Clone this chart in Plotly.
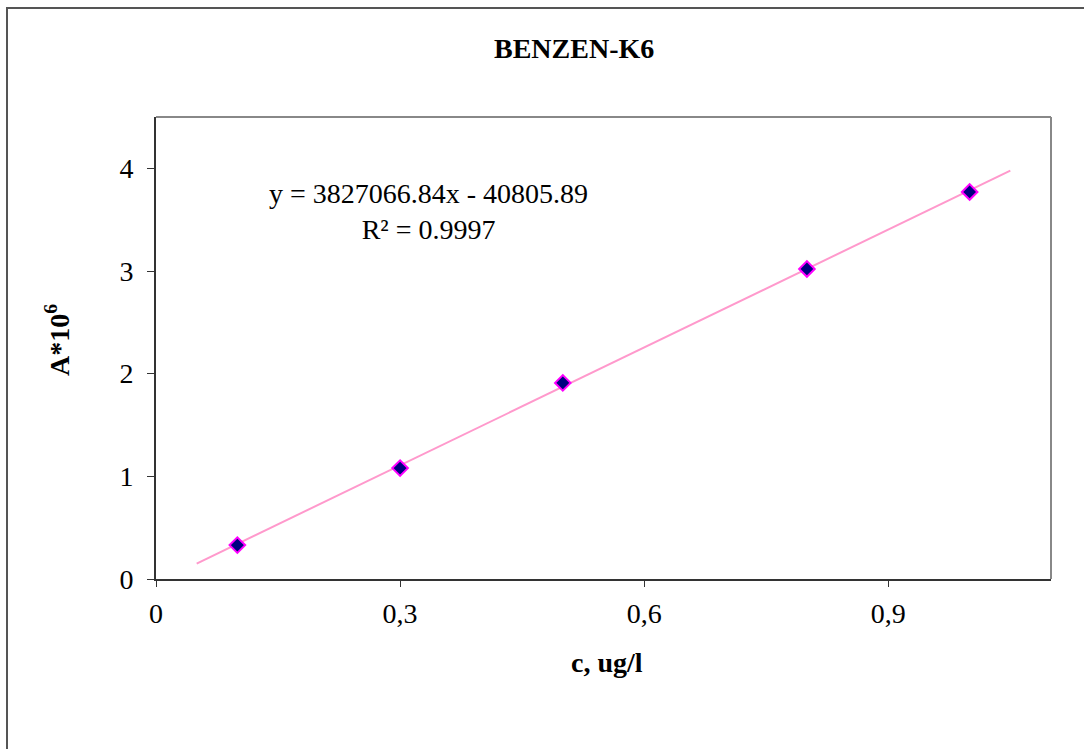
import plotly.graph_objects as go

# Data
conc = [0.1, 0.3, 0.5, 0.8, 1.0]
area = [0.33, 1.08, 1.91, 3.02, 3.77]
slope = 3827066.84
intercept = -40805.89
trend_x = [0.05, 1.05]
trend_y = [(slope * x + intercept) / 1e6 for x in trend_x]
x_tickvals = [0, 0.3, 0.6, 0.9]
x_ticktext = ["0", "0,3", "0,6", "0,9"]
y_tickvals = [0, 1, 2, 3, 4]

W, H = 1084, 749
L, R, T, B = 156, 1051, 117, 579  # plot area px

def px_x(px):
    return (px - L) / (R - L)

def px_y(py):
    return (B - py) / (B - T)

FONT = "Liberation Serif"
FS = 28

fig = go.Figure()
fig.add_trace(go.Scatter(x=trend_x, y=trend_y, mode="lines",
                         line=dict(color="#FF99CC", width=2), showlegend=False,
                         hoverinfo="skip"))
fig.add_trace(go.Scatter(x=conc, y=area, mode="markers",
                         marker=dict(symbol="diamond", size=12, color="#000080",
                                     line=dict(color="#FF00FF", width=2)),
                         showlegend=False))

fig.update_layout(
    width=W, height=H,
    margin=dict(l=L, r=W - R, t=T, b=H - B, pad=0),
    paper_bgcolor="white", plot_bgcolor="white",
    font=dict(family=FONT, color="black", size=FS),
    xaxis=dict(range=[0, 1.1], tickvals=x_tickvals, ticktext=x_ticktext,
               showgrid=False, zeroline=False, showline=True, linecolor="#333333",
               linewidth=2, ticks="outside", ticklen=6, tickcolor="#333333",
               tickwidth=1, tickfont=dict(family=FONT, size=FS),
               ticklabelstandoff=2),
    yaxis=dict(range=[0, 4.5], tickvals=y_tickvals,
               showgrid=False, zeroline=False, showline=True, linecolor="#333333",
               linewidth=2, ticks="outside", ticklen=7, tickcolor="#333333",
               tickwidth=1, tickfont=dict(family=FONT, size=FS),
               ticklabelstandoff=8),
    shapes=[
        dict(type="line", xref="paper", yref="paper", x0=0, x1=1, y0=1, y1=1,
             line=dict(color="#888888", width=2)),
        dict(type="line", xref="paper", yref="paper", x0=1, x1=1, y0=0, y1=1,
             line=dict(color="#888888", width=2)),
        dict(type="rect", xref="paper", yref="paper", x0=px_x(7), x1=px_x(1200),
             y0=px_y(900), y1=px_y(8), line=dict(color="#555555", width=2),
             fillcolor="rgba(0,0,0,0)", layer="below"),
    ],
    annotations=[
        dict(text="<b>BENZEN-K6</b>", xref="paper", yref="paper",
             x=px_x(574), y=px_y(48), showarrow=False,
             font=dict(family=FONT, size=FS), xanchor="center", yanchor="middle"),
        dict(text="<b>c, ug/l</b>", xref="paper", yref="paper",
             x=px_x(607), y=px_y(662), showarrow=False,
             font=dict(family=FONT, size=FS), xanchor="center", yanchor="middle"),
        dict(text="<b>A*10<sup>6</sup></b>", xref="paper", yref="paper",
             x=px_x(57), y=px_y(340), showarrow=False, textangle=-90,
             font=dict(family=FONT, size=FS), xanchor="center", yanchor="middle"),
        dict(text="y = 3827066.84x - 40805.89<br>R² = 0.9997", xref="paper", yref="paper",
             x=px_x(428), y=px_y(211), showarrow=False, align="center",
             font=dict(family=FONT, size=FS), xanchor="center", yanchor="middle"),
    ],
)

fig.write_html("out.html", config={"displayModeBar": False},
               post_script="document.body.style.margin='0';document.body.style.overflow='hidden';")
